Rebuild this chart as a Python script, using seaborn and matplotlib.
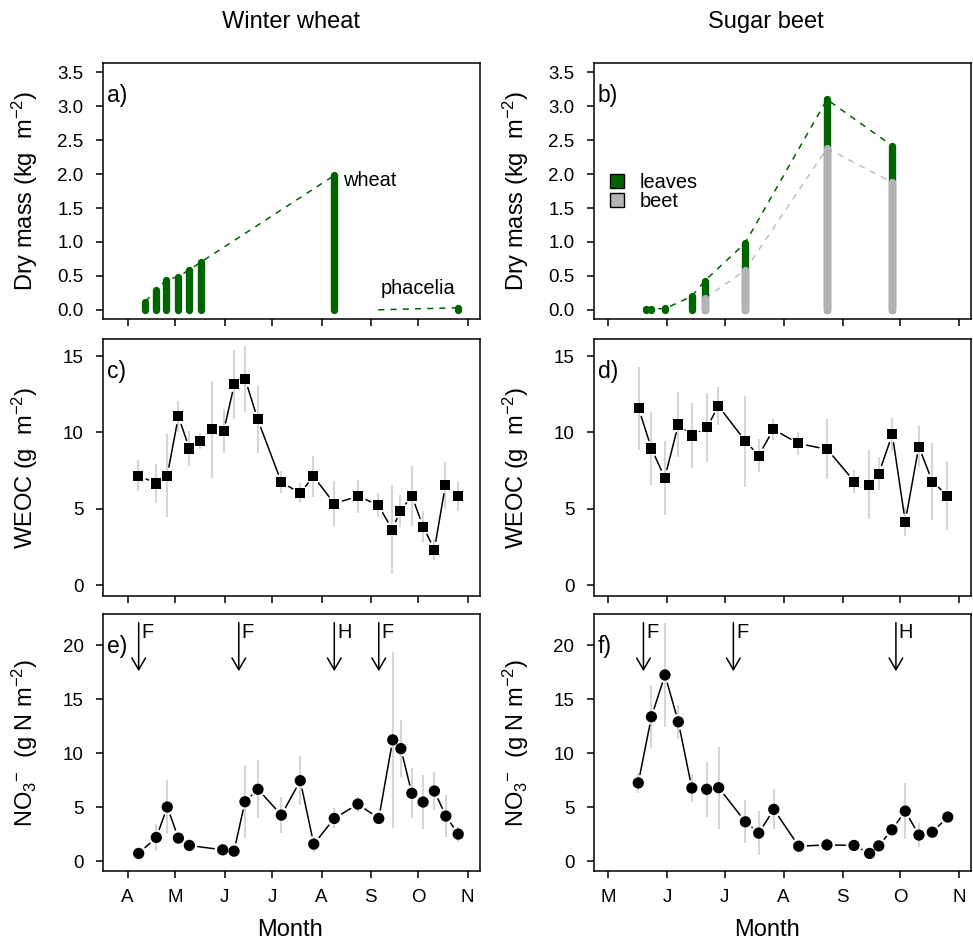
#!/usr/bin/env python3
"""Dry mass, WEOC and nitrate over the season for winter wheat and sugar beet."""

import numpy as np
import matplotlib
matplotlib.use("Agg")
import matplotlib.pyplot as plt
from matplotlib.patches import Patch
import seaborn as sns

# ---- data (x = day of year) ----
# a) winter wheat dry mass
wheat_doy = [102.1, 108.8, 115.1, 122.8, 129.8, 136.9, 221.0]
wheat_mass = [0.12, 0.29, 0.44, 0.49, 0.59, 0.70, 1.98]
phacelia_doy = [248.7, 299.0]
phacelia_mass = [0.0, 0.03]

# b) sugar beet dry mass (leaves stacked on beet)
beet_doy = [140.8, 143.6, 150.9, 164.8, 171.7, 192.7, 235.7, 269.8]
leaves_mass = [0.01, 0.01, 0.02, 0.20, 0.26, 0.40, 0.72, 0.54]
beet_mass = [np.nan, np.nan, np.nan, np.nan, 0.17, 0.58, 2.38, 1.88]

# c) WEOC winter wheat
weoc_w_doy = [97.7, 109.0, 115.9, 122.9, 129.8, 136.7, 143.9, 151.4, 158.1, 165.0,
              172.8, 187.7, 199.6, 207.8, 221.0, 236.1, 248.7, 257.5, 262.6, 269.9,
              276.9, 284.0, 290.9, 299.0]
weoc_w = [7.18, 6.66, 7.18, 11.05, 8.95, 9.43, 10.2, 10.08, 13.16, 13.47,
          10.85, 6.75, 6.02, 7.14, 5.35, 5.83, 5.24, 3.65, 4.89, 5.83,
          3.84, 2.34, 6.53, 5.83]
weoc_w_sd = [1.02, 1.27, 2.71, 1.0, 1.14, 0.53, 3.15, 1.45, 2.25, 2.16,
             2.21, 0.71, 0.65, 1.35, 1.45, 1.09, 0.77, 2.89, 1.05, 1.98,
             1.0, 0.66, 1.52, 0.95]

# d) WEOC sugar beet
weoc_b_doy = [136.9, 143.6, 150.6, 157.7, 164.8, 172.8, 178.7, 192.9, 199.9, 207.6,
              220.7, 235.9, 250.1, 258.0, 262.9, 270.0, 276.8, 283.9, 291.0, 298.9]
weoc_b = [11.57, 8.95, 7.03, 10.52, 9.80, 10.33, 11.74, 9.43, 8.49, 10.2,
          9.28, 8.89, 6.79, 6.59, 7.31, 9.87, 4.17, 9.08, 6.79, 5.87]
weoc_b_sd = [2.7, 2.37, 2.43, 2.13, 2.13, 2.24, 1.26, 2.97, 1.07, 0.68,
             0.75, 1.96, 0.77, 2.24, 1.09, 1.07, 0.92, 1.36, 2.49, 2.27]

# e) nitrate winter wheat
no3_w_doy = [97.9, 109.0, 115.9, 122.9, 129.8, 150.8, 157.9, 164.8, 173.0, 187.7,
             199.6, 208.1, 221.0, 235.9, 249.0, 257.8, 262.9, 269.8, 276.9, 284.0,
             291.2, 299.0]
no3_w = [0.72, 2.2, 5.02, 2.14, 1.46, 1.05, 0.93, 5.51, 6.66, 4.27,
         7.46, 1.58, 3.96, 5.29, 3.96, 11.24, 10.43, 6.29, 5.48, 6.5,
         4.18, 2.51]
no3_w_sd = [0.3, 1.24, 2.48, 0.4, 0.3, 0.3, 0.3, 3.38, 2.67, 1.65,
            2.29, 0.7, 0.93, 0.7, 0.3, 8.13, 2.64, 2.33, 2.48, 1.75,
            1.94, 0.7]

# f) nitrate sugar beet
no3_b_doy = [136.7, 143.6, 150.7, 157.7, 164.8, 172.6, 178.9, 192.9, 199.9, 207.8,
             220.9, 235.7, 249.9, 258.1, 262.9, 269.8, 276.8, 284.0, 291.0, 299.1]
no3_b = [7.25, 13.38, 17.25, 12.91, 6.78, 6.66, 6.81, 3.65, 2.6, 4.8,
         1.39, 1.51, 1.46, 0.72, 1.42, 2.91, 4.64, 2.42, 2.69, 4.09]
no3_b_sd = [0.93, 2.94, 4.8, 1.55, 1.32, 2.55, 3.79, 2.0, 2.05, 1.86,
            0.3, 0.6, 0.4, 0.3, 0.3, 0.5, 2.58, 1.08, 0.5, 0.3]

# management events (F = fertilisation, H = harvest)
events_w_doy = [97.9, 160.9, 221.0, 249.0]
events_w_lab = ["F", "F", "H", "F"]
events_b_doy = [139.4, 186.6, 271.9]
events_b_lab = ["F", "F", "H"]

# month axis
months_w = ["A", "M", "J", "J", "A", "S", "O", "N"]
months_w_doy = [91, 121, 152, 182, 213, 244, 274, 305]
months_b = ["M", "J", "J", "A", "S", "O", "N"]
months_b_doy = [121, 152, 182, 213, 244, 274, 305]

GREEN = "#006400"
BEET_GRAY = "#B3B3B3"
ERR_GRAY = "#D6D6D6"


def gapped_line(ax, x, y, gap=8.5):
    """Connect points like R's type='b': segments stop short of each marker."""
    pts = ax.transData.transform(np.column_stack([x, y]))
    inv = ax.transData.inverted()
    for p0, p1 in zip(pts[:-1], pts[1:]):
        d = np.hypot(*(p1 - p0))
        if d <= 2 * gap:
            continue
        u = (p1 - p0) / d
        seg = inv.transform(np.array([p0 + u * gap, p1 - u * gap]))
        ax.plot(seg[:, 0], seg[:, 1], color="black", lw=1.1, zorder=2)


def style_axis(ax, xlim, ylim, yticks, yfmt, month_doy, month_lab, show_x):
    ax.set_xlim(*xlim)
    ax.set_ylim(*ylim)
    ax.set_yticks(yticks)
    ax.set_yticklabels([yfmt.format(v) for v in yticks])
    ax.set_xticks(month_doy)
    ax.set_xticklabels(month_lab if show_x else [])
    ax.tick_params(direction="out", length=5, width=1.1, labelsize=13.5,
                   colors="black", labelcolor="black")
    ax.tick_params(axis="y", pad=9)
    ax.tick_params(axis="x", pad=8)
    for sp in ax.spines.values():
        sp.set_visible(True)
        sp.set_color("black")
        sp.set_linewidth(1.1)
    ax.grid(False)


def panel_letter(ax, letter):
    ax.text(0.011, 0.918, letter, transform=ax.transAxes, ha="left", va="top", fontsize=16.5)


def plot_mass_wheat(ax):
    ax.plot(wheat_doy, wheat_mass, color=GREEN, lw=1.1, ls=(0, (4, 4)), zorder=1)
    ax.vlines(wheat_doy, 0, wheat_mass, colors=GREEN, lw=5.3, capstyle="round", zorder=2)
    ax.plot(phacelia_doy, phacelia_mass, color=GREEN, lw=1.1, ls=(0, (4, 4)), zorder=1)
    ax.vlines(phacelia_doy[-1:], 0, phacelia_mass[-1:], colors=GREEN, lw=5.3,
              capstyle="round", zorder=2)
    ax.annotate("wheat", xy=(wheat_doy[-1], wheat_mass[-1]), xytext=(6, -4),
                textcoords="offset points", ha="left", va="center", fontsize=14.4)
    ax.text(np.mean(phacelia_doy), phacelia_mass[-1] + 0.28, "phacelia",
            ha="center", va="center", fontsize=14.4)


def plot_mass_beet(ax):
    total = np.array(leaves_mass) + np.nan_to_num(beet_mass)
    beet = np.array(beet_mass)
    ax.plot(beet_doy, total, color=GREEN, lw=1.1, ls=(0, (4, 4)), zorder=1)
    ax.plot(beet_doy, beet, color="#BEBEBE", lw=1.1, ls=(0, (4, 4)), zorder=1)
    ax.vlines(beet_doy, 0, total, colors=GREEN, lw=5.3, capstyle="round", zorder=2)
    ok = ~np.isnan(beet)
    ax.vlines(np.array(beet_doy)[ok], 0, beet[ok], colors=BEET_GRAY, lw=5.3,
              capstyle="round", zorder=3)
    handles = [Patch(facecolor=GREEN, edgecolor="black", lw=1.0),
               Patch(facecolor=BEET_GRAY, edgecolor="black", lw=1.0)]
    ax.legend(handles, ["leaves", "beet"], loc="upper left", bbox_to_anchor=(0.042, 0.57),
              frameon=False, fontsize=14.4, handlelength=0.7, handleheight=0.7,
              handletextpad=0.8, labelspacing=-0.02, borderpad=0, borderaxespad=0)


def plot_series(ax, x, y, sd, marker, size):
    x = np.array(x)
    y = np.array(y)
    sd = np.array(sd)
    ax.vlines(x, y - sd, y + sd, colors=ERR_GRAY, lw=1.5, zorder=1)
    gapped_line(ax, x, y)
    sns.scatterplot(x=x, y=y, marker=marker, s=size, color="black", edgecolor="none",
                    ax=ax, zorder=3, legend=False)


def plot_events(ax, doys, labels, top=22.1, bottom=17.6):
    for d, lab in zip(doys, labels):
        ax.annotate("", xy=(d, bottom), xytext=(d, top),
                    arrowprops=dict(arrowstyle="->,head_length=0.6,head_width=0.35",
                                    lw=1.1, color="black", shrinkA=0, shrinkB=0,
                                    mutation_scale=14))
        ax.annotate(lab, xy=(d, top), xytext=(2, 0), textcoords="offset points",
                    ha="left", va="top", fontsize=14.4)


def main():
    sns.set_style("ticks")
    plt.rcParams["font.family"] = ["Liberation Sans", "DejaVu Sans"]
    plt.rcParams["mathtext.fontset"] = "custom"
    plt.rcParams["mathtext.rm"] = "Liberation Sans"
    plt.rcParams["mathtext.it"] = "Liberation Sans:italic"
    plt.rcParams["mathtext.bf"] = "Liberation Sans:bold"
    plt.rcParams["text.color"] = "black"
    plt.rcParams["axes.labelcolor"] = "black"
    plt.rcParams["xtick.color"] = "black"
    plt.rcParams["ytick.color"] = "black"

    fig = plt.figure(figsize=(9.73, 9.44), dpi=100)
    W, H = 377.3 / 973, 256.5 / 944
    lefts = [103 / 973, 593.7 / 973]
    bottoms = [1 - 319.3 / 944, 1 - 595.7 / 944, 1 - 870.7 / 944]
    axes = [[fig.add_axes([l, b, W, H]) for l in lefts] for b in bottoms]

    xlims = [(75.45, 312.9), (113.3, 311.3)]
    months = [(months_w_doy, months_w), (months_b_doy, months_b)]
    ylims = [(-0.14, 3.64), (-0.68, 16.1), (-0.88, 22.88)]
    yticks = [np.arange(0, 3.51, 0.5), [0, 5, 10, 15], [0, 5, 10, 15, 20]]
    yfmts = ["{:.1f}", "{:g}", "{:g}"]
    ylabels = [r"Dry mass (kg  m$^{-2}$)", r"WEOC (g  m$^{-2}$)",
               r"NO$_3$$^{-}$  (g N m$^{-2}$)"]

    for r in range(3):
        for c in range(2):
            ax = axes[r][c]
            style_axis(ax, xlims[c], ylims[r], yticks[r], yfmts[r],
                       months[c][0], months[c][1], r == 2)
            ax.set_ylabel(ylabels[r], fontsize=17, color="black")
            ax.yaxis.set_label_coords(-0.166, 0.5)

    plot_mass_wheat(axes[0][0])
    plot_mass_beet(axes[0][1])
    plot_series(axes[1][0], weoc_w_doy, weoc_w, weoc_w_sd, "s", 52)
    plot_series(axes[1][1], weoc_b_doy, weoc_b, weoc_b_sd, "s", 52)
    plot_series(axes[2][0], no3_w_doy, no3_w, no3_w_sd, "o", 66)
    plot_series(axes[2][1], no3_b_doy, no3_b, no3_b_sd, "o", 66)
    plot_events(axes[2][0], events_w_doy, events_w_lab)
    plot_events(axes[2][1], events_b_doy, events_b_lab)

    for ax, letter in zip([a for row in axes for a in row], "abcdef"):
        panel_letter(ax, letter + ")")

    fig.text(291 / 973, 1 - 22 / 944, "Winter wheat", ha="center", va="center", fontsize=17)
    fig.text(766 / 973, 1 - 22 / 944, "Sugar beet", ha="center", va="center", fontsize=17)
    fig.text(290 / 973, 1 - 930 / 944, "Month", ha="center", va="center", fontsize=17)
    fig.text(767 / 973, 1 - 930 / 944, "Month", ha="center", va="center", fontsize=17)

    fig.savefig("out.png", dpi=100)


if __name__ == "__main__":
    main()
